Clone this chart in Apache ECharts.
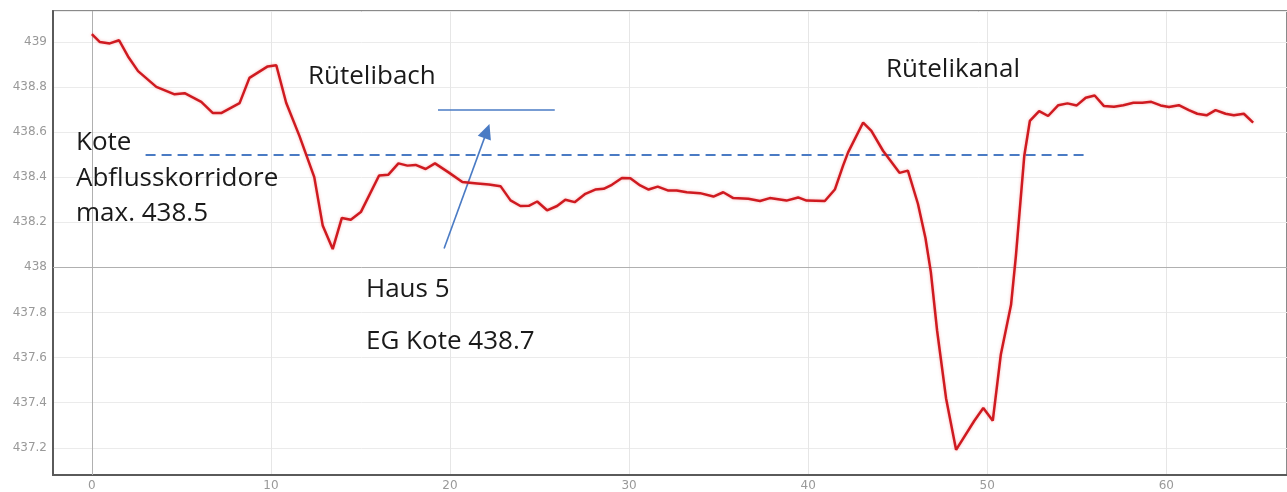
<!DOCTYPE html>
<html>
<head>
<meta charset="utf-8">
<script src="https://cdn.jsdelivr.net/npm/echarts@6/dist/echarts.min.js"></script>
<style>
html,body{margin:0;padding:0;background:#fff;}
#chart{width:1287px;height:492px;}
</style>
</head>
<body>
<div id="chart"></div>
<script>
// distance along profile (m)
const distances = [0.0,0.45,1.0,1.52,2.02,2.58,3.6,4.62,5.18,6.11,6.76,7.22,8.25,8.8,9.82,10.3,10.85,11.59,12.42,12.89,13.45,13.96,14.46,15.02,16.04,16.56,17.12,17.62,18.08,18.64,19.16,19.94,20.69,21.52,22.17,22.82,23.38,23.93,24.4,24.87,25.42,25.98,26.44,26.96,27.56,28.11,28.58,29.04,29.6,30.07,30.62,31.09,31.6,32.16,32.66,33.22,33.96,34.71,35.26,35.82,36.66,37.31,37.86,38.79,39.44,39.91,40.93,41.49,41.95,42.23,43.07,43.53,44.18,45.1,45.57,46.13,46.55,46.85,47.2,47.7,48.26,49.28,49.78,50.31,50.76,51.33,51.6,52.07,52.38,52.9,53.4,53.97,54.48,55.0,55.5,56.0,56.52,57.08,57.6,58.16,58.66,59.16,59.68,60.15,60.7,61.26,61.73,62.25,62.75,63.31,63.77,64.33,64.85];
// terrain elevation (m a.s.l.)
const elevations = [439.034,438.999,438.993,439.007,438.935,438.87,438.80,438.767,438.772,438.734,438.684,438.684,438.728,438.84,438.891,438.896,438.73,438.583,438.40,438.186,438.081,438.219,438.211,438.245,438.407,438.411,438.461,438.451,438.454,438.436,438.461,438.42,438.378,438.372,438.367,438.36,438.297,438.272,438.273,438.292,438.253,438.272,438.30,438.289,438.326,438.345,438.348,438.366,438.396,438.395,438.363,438.345,438.358,438.341,438.341,438.333,438.329,438.314,438.333,438.307,438.304,438.294,438.307,438.296,438.31,438.296,438.294,438.345,438.451,438.51,438.642,438.605,438.517,438.419,438.429,438.282,438.13,437.98,437.72,437.42,437.191,437.32,437.376,437.32,437.614,437.834,438.05,438.495,438.649,438.693,438.671,438.719,438.727,438.718,438.752,438.762,438.715,438.712,438.719,438.73,438.73,438.734,438.718,438.711,438.719,438.697,438.681,438.674,438.697,438.681,438.674,438.681,438.642];

// reference levels
const corridorLevel = 438.5;          // Kote Abflusskorridore max.
const corridorRange = [3.0, 55.6];
const houseLevel = 438.7;             // Haus 5 EG Kote
const houseRange = [19.33, 25.85];
const arrowFrom = [19.67, 438.084];
const arrowTo = [22.06, 438.604];

const xTickLabels = ['0','10','20','30','40','50','60'];
const yTickLabels = ['437.2','437.4','437.6','437.8','438','438.2','438.4','438.6','438.8','439'];

const texts = {
  bach: 'Rütelibach',
  kanal: 'Rütelikanal',
  kote: ['Kote', 'Abflusskorridore', 'max. 438.5'],
  haus: 'Haus 5',
  eg: 'EG Kote 438.7'
};

const profile = distances.map((d, i) => [d, elevations[i]]);

const chart = echarts.init(document.getElementById('chart'), null, {renderer: 'canvas'});
const blue = '#4a7bc4';
const textFont = '"Open Sans", "Noto Sans", sans-serif';
const txt = (t, left, y) => ({
  type: 'text', left: left, top: y - 11, z: 100,
  style: {text: t, font: '26px ' + textFont, fill: '#1a1a1a'}
});

chart.setOption({
  animation: false,
  backgroundColor: '#fff',
  grid: {left: 53, top: 11, right: -3, bottom: 14, show: true, borderColor: '#8a8a8a', borderWidth: 2, backgroundColor: 'transparent'},
  xAxis: {
    type: 'value', min: -2.17, max: 66.74, minInterval: 10, maxInterval: 10,
    axisLine: {show: true, onZero: false, lineStyle: {color: '#5a5a5a', width: 2}},
    axisTick: {show: false},
    axisLabel: {showMinLabel: false, showMaxLabel: false, margin: 5, color: '#999999', fontSize: 12, fontFamily: 'DejaVu Sans',
      formatter: v => xTickLabels.includes(String(Math.round(v))) && Math.abs(v - Math.round(v)) < 1e-6 ? String(Math.round(v)) : ''},
    splitLine: {show: true, lineStyle: {color: '#e6e6e6', width: 1}}
  },
  yAxis: {
    type: 'value', min: 437.0793, max: 439.1366, minInterval: 0.2, maxInterval: 0.2,
    axisLine: {show: true, onZero: false, lineStyle: {color: '#5a5a5a', width: 2}},
    axisTick: {show: false},
    axisLabel: {showMinLabel: false, showMaxLabel: false, margin: 6, color: '#999999', fontSize: 12, fontFamily: 'DejaVu Sans',
      formatter: v => { const s = String(Math.round(v * 10) / 10); return yTickLabels.includes(s) ? s : ''; }},
    splitLine: {show: true, lineStyle: {color: '#ebebeb', width: 1}}
  },
  series: [
    {
      type: 'line', data: profile, symbol: 'none', z: 5,
      lineStyle: {color: '#cf1a20', width: 2.5, shadowColor: 'rgba(230,40,40,0.35)', shadowBlur: 3},
      markLine: {
        silent: true, symbol: ['none', 'none'], label: {show: false}, z: 1,
        lineStyle: {color: '#b0b0b0', width: 1, type: 'solid'},
        data: [
          [{coord: [-2.17, 438]}, {coord: [66.74, 438]}],
          [{coord: [0, 437.0793]}, {coord: [0, 439.1366]}]
        ]
      }
    },
    {
      type: 'line', data: [], z: 6,
      markLine: {
        silent: true, symbol: ['none', 'none'], label: {show: false},
        data: [
          [{coord: [corridorRange[0], corridorLevel], lineStyle: {color: blue, width: 2, type: [10, 6]}},
           {coord: [corridorRange[1], corridorLevel]}],
          [{coord: [houseRange[0], houseLevel], lineStyle: {color: blue, width: 1.6, type: 'solid'}},
           {coord: [houseRange[1], houseLevel]}],
          [{coord: arrowFrom, symbol: 'none', lineStyle: {color: blue, width: 1.6, type: 'solid'}},
           {coord: arrowTo, symbol: 'triangle', symbolSize: [14, 15]}]
        ]
      }
    }
  ],
  graphic: [
    txt(texts.bach, 308, 75),
    txt(texts.kanal, 886, 68),
    txt(texts.kote[0], 76, 141),
    txt(texts.kote[1], 76, 177),
    txt(texts.kote[2], 76, 212),
    txt(texts.haus, 366, 288),
    txt(texts.eg, 366, 340)
  ]
});
</script>
</body>
</html>
